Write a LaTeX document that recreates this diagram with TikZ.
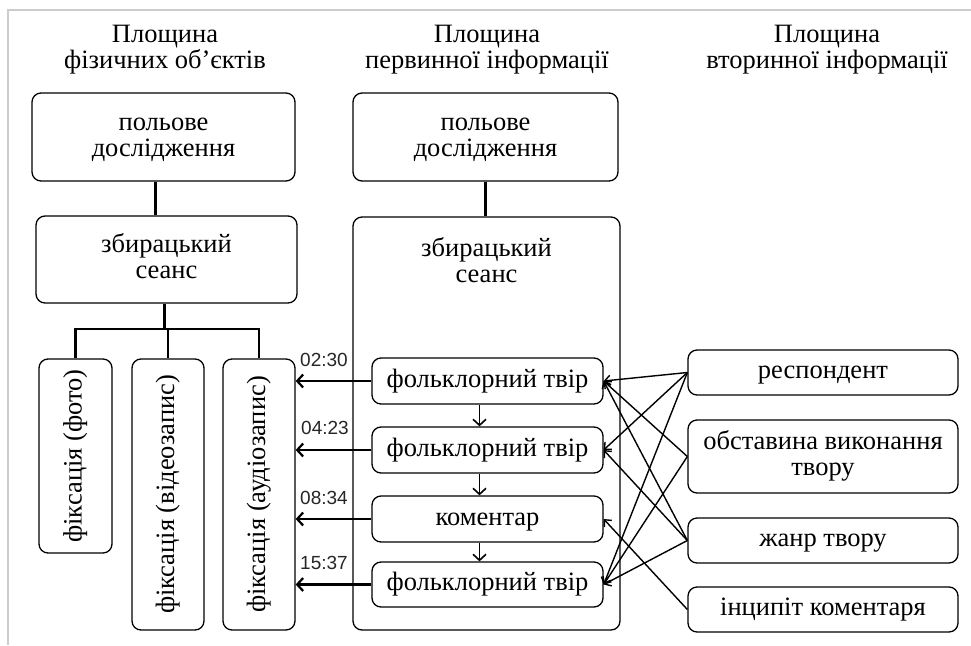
\documentclass[tikz,border=0pt]{standalone}
\usepackage{fontspec}
\setmainfont{Liberation Serif}
\newfontfamily\labfont{Liberation Sans}
\usetikzlibrary{arrows.meta}
\newcommand\onel[1]{\raisebox{0pt}[18.1pt][5.9pt]{#1}}
\newcommand\twol[2]{\raisebox{0pt}[10pt][23.8pt]{\begin{tabular}[t]{@{}c@{}}#1\\#2\end{tabular}}}
\begin{document}
\begin{tikzpicture}[x=1pt,y=-1pt,
  box/.style={draw, line width=1.3pt, rounded corners=9pt, fill=white, inner sep=0pt,
    font=\fontsize{26.5}{26}\selectfont},
  head/.style={inner sep=0pt, anchor=base, font=\fontsize{26.5}{26}\selectfont},
  tlabel/.style={inner sep=0pt, font=\labfont\fontsize{19}{20}\selectfont, text=black!85},
  tree/.style={line width=2.2pt},
  larrow/.style={line width=2.2pt, -{Straight Barb[length=6pt,width=13pt]}},
  darrow/.style={line width=1.6pt, -{Straight Barb[length=6pt,width=13pt]}},
  xarrow/.style={line width=1.4pt, -{Straight Barb[length=5.5pt,width=10pt]}}
]
\useasboundingbox (0,0) rectangle (971,645);
\fill[white] (0,0) rectangle (971,645);
\draw[black!20, line width=2pt] (971,10) -- (8,10) -- (8,645);

% headings
\node[head] (h1) at (165,42) {\begin{tabular}[t]{@{}c@{}}Площина\\фізичних об’єктів\end{tabular}};
\node[head] (h2) at (487,42) {\begin{tabular}[t]{@{}c@{}}Площина\\первинної інформації\end{tabular}};
\node[head] (h3) at (827,42) {\begin{tabular}[t]{@{}c@{}}Площина\\вторинної інформації\end{tabular}};

% left column
\node[box, minimum width=263pt, minimum height=88pt] (pole1) at (163.5,137) {\twol{польове}{дослідження}};
\node[box, minimum width=261pt, minimum height=87pt] (zbir1) at (166.5,259.5) {\twol{збирацький}{сеанс}};
\node[box, minimum width=73pt, minimum height=194pt] (foto) at (75.5,456) {\rotatebox{90}{\onel{фіксація (фото)}}};
\node[box, minimum width=72pt, minimum height=271pt] (video) at (168,494.5) {\rotatebox{90}{\onel{фіксація (відеозапис)}}};
\node[box, minimum width=72pt, minimum height=271pt] (audio) at (259,494.5) {\rotatebox{90}{\onel{фіксація (аудіозапис)}}};

% middle column
\node[box, minimum width=265pt, minimum height=88pt] (pole2) at (485.5,137) {\twol{польове}{дослідження}};
\node[box, minimum width=267pt, minimum height=413pt] (big) at (486.5,423.5) {};
\node[inner sep=0pt, font=\fontsize{26.5}{26}\selectfont] (zbir2) at (486.5,263) {\twol{збирацький}{сеанс}};
\node[box, minimum width=231pt, minimum height=46pt] (ft1) at (487.5,381) {\onel{фольклорний твір}};
\node[box, minimum width=231pt, minimum height=46pt] (ft2) at (487.5,450) {\onel{фольклорний твір}};
\node[box, minimum width=231pt, minimum height=46pt] (kom) at (487.5,519) {\onel{коментар}};
\node[box, minimum width=231pt, minimum height=45pt] (ft3) at (487.5,584.5) {\onel{фольклорний твір}};

% right column
\node[box, minimum width=270pt, minimum height=45pt] (resp) at (823,372.5) {\onel{респондент}};
\node[box, minimum width=270pt, minimum height=73pt] (obst) at (823,456.5) {\twol{обставина виконання}{твору}};
\node[box, minimum width=270pt, minimum height=45pt] (zhanr) at (823,540.5) {\onel{жанр твору}};
\node[box, minimum width=270pt, minimum height=45pt] (incip) at (823,609.5) {\onel{інципіт коментаря}};

% time labels
\node[tlabel] (t1) at (324,360) {02:30};
\node[tlabel] (t2) at (325,428) {04:23};
\node[tlabel] (t3) at (324,498) {08:34};
\node[tlabel] (t4) at (324,563) {15:37};

% tree connectors
\draw[tree] ([xshift=-8pt]pole1.south) -- ([xshift=-8pt]pole1.south |- zbir1.north);
\draw[tree] (pole2.south) -- (pole2.south |- big.north);
\coordinate (tj) at ([xshift=-2pt]zbir1.south |- 0,329);
\draw[tree] ([xshift=-2pt]zbir1.south) -- (tj);
\draw[tree] (foto.north) |- (tj) -| (audio.north);
\draw[tree] (tj -| video.north) -- (video.north);

% arrows to audio
\draw[larrow] (ft1.west) -- (ft1.west -| audio.east);
\draw[larrow] (ft2.west) -- (ft2.west -| audio.east);
\draw[larrow] (kom.west) -- (kom.west -| audio.east);
\draw[larrow] (ft3.west) -- (ft3.west -| audio.east);

% down arrows
\draw[darrow] ([xshift=-8pt]ft1.south) -- ([xshift=-8pt]ft2.north);
\draw[darrow] ([xshift=-8pt]ft2.south) -- ([xshift=-8pt]kom.north);
\draw[darrow] ([xshift=-8pt]kom.south) -- ([xshift=-8pt]ft3.north);

% cross connectors
\draw[xarrow] (resp.west) -- (ft1.east);
\draw[xarrow] (resp.west) -- (ft2.east);
\draw[xarrow] (resp.west) -- (ft3.east);
\draw[xarrow] (obst.west) -- (ft1.east);
\draw[xarrow] (obst.west) -- (ft3.east);
\draw[xarrow] (zhanr.west) -- (ft1.east);
\draw[xarrow] (zhanr.west) -- (ft2.east);
\draw[xarrow] (zhanr.west) -- (ft3.east);
\draw[xarrow] (incip.west) -- (kom.east);
\end{tikzpicture}
\end{document}
